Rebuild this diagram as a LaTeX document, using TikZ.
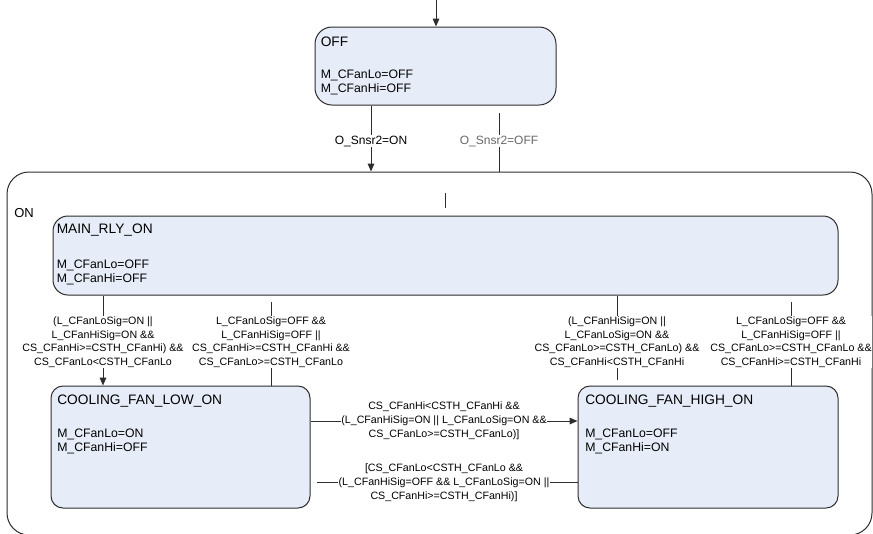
\documentclass[tikz,border=0pt]{standalone}
\usepackage{fontspec}
\setmainfont{Liberation Sans}
\usetikzlibrary{arrows.meta}
\definecolor{statefill}{RGB}{231,237,248}
\definecolor{linec}{RGB}{45,45,45}
\definecolor{graytext}{RGB}{105,105,105}
\begin{document}
\begin{tikzpicture}[x=0.75pt,y=-0.75pt,
  statebox/.style={draw=linec, line width=0.75pt, fill=statefill, inner sep=0pt},
  titletext/.style={anchor=west, inner sep=0pt, font=\fontsize{10.3}{12}\selectfont},
  bodytext/.style={anchor=west, inner sep=0pt, align=left, font=\fontsize{9.2}{10.5}\selectfont},
  tlabel/.style={fill=white, inner sep=0.6pt, align=center, font=\fontsize{8}{10.2}\selectfont},
  slabel/.style={fill=white, inner sep=0.6pt, font=\fontsize{9}{11}\selectfont},
  conn/.style={draw=linec, line width=0.75pt},
  arr/.style={conn, -{Triangle[length=6pt,width=5pt]}}]
\useasboundingbox (0,0) rectangle (873,533);

% outer ON state
\begin{scope}
\clip (0,0) rectangle (873,533);
\node[draw=linec, line width=0.75pt, fill=white, rounded corners=16.5pt, minimum width=648.75pt, minimum height=272.25pt, inner sep=0pt] (on) at (439.5,353.5) {};
\end{scope}
\node[titletext, font=\fontsize{9.75}{12}\selectfont] (ontitle) at (14,213) {ON};

% states
\node[statebox, rounded corners=12.75pt, minimum width=180.75pt, minimum height=58.5pt] (off) at (435.5,66) {};
\node[titletext] (offtitle) at (320.5,41.7) {OFF};
\node[bodytext] (offbody) at (320.5,82.5) {M\_CFanLo=OFF\\M\_CFanHi=OFF};

\node[statebox, rounded corners=11.25pt, minimum width=588.75pt, minimum height=59.25pt] (main) at (445.5,255.5) {};
\node[titletext] (maintitle) at (56.5,230) {MAIN\_RLY\_ON};
\node[bodytext] (mainbody) at (56.5,272) {M\_CFanLo=OFF\\M\_CFanHi=OFF};

\node[statebox, rounded corners=9pt, minimum width=194.25pt, minimum height=91.5pt] (low) at (180.5,447) {};
\node[titletext] (lowtitle) at (57,400.7) {COOLING\_FAN\_LOW\_ON};
\node[bodytext] (lowbody) at (57,441) {M\_CFanLo=ON\\M\_CFanHi=OFF};

\node[statebox, rounded corners=9pt, minimum width=195pt, minimum height=91.5pt] (high) at (708,447) {};
\node[titletext] (hightitle) at (585,400.7) {COOLING\_FAN\_HIGH\_ON};
\node[bodytext] (highbody) at (585,441) {M\_CFanLo=OFF\\M\_CFanHi=ON};

% guide coordinates
\coordinate (topstart) at (436,0);
\coordinate (xa) at (371,0);
\coordinate (offfree) at (499,113);
\coordinate (s1) at (445,193);
\coordinate (s2) at (445,208);
\coordinate (v1) at (103,0);
\coordinate (v2) at (271,302);
\coordinate (v3) at (617,380);
\coordinate (v4) at (791,302);
\coordinate (h1) at (0,421);
\coordinate (h2) at (317,482);

% connectors
\draw[arr] (topstart) -- (topstart |- off.north);
\draw[arr] (xa |- off.south) -- (xa |- on.north);
\draw[conn] (offfree) -- (offfree |- on.north);
\draw[conn] (s1) -- (s2);
\draw[arr] (v1 |- main.south) -- (v1 |- low.north);
\draw[conn] (v2) -- (v2 |- low.north);
\draw[conn] (v3 |- main.south) -- (v3);
\draw[conn] (v4) -- (v4 |- high.north);
\draw[arr] (h1 -| low.east) -- (h1 -| high.west);
\draw[conn] (h2) -- (h2 -| high.west);

% labels
\node[slabel] (lon) at (371,141) {O\_Snsr2=ON};
\node[slabel, text=graytext] (loff) at (499,141) {O\_Snsr2=OFF};
\node[tlabel] (l1) at (103,342) {(L\_CFanLoSig=ON ||\\L\_CFanHiSig=ON \&\&\\CS\_CFanHi>=CSTH\_CFanHi) \&\&\\CS\_CFanLo<CSTH\_CFanLo};
\node[tlabel] (l2) at (271,342) {L\_CFanLoSig=OFF \&\&\\L\_CFanHiSig=OFF ||\\CS\_CFanHi>=CSTH\_CFanHi \&\&\\CS\_CFanLo>=CSTH\_CFanLo};
\node[tlabel] (l3) at (617,342) {(L\_CFanHiSig=ON ||\\L\_CFanLoSig=ON \&\&\\CS\_CFanLo>=CSTH\_CFanLo) \&\&\\CS\_CFanHi<CSTH\_CFanHi};
\node[tlabel] (l4) at (791,342) {L\_CFanLoSig=OFF \&\&\\L\_CFanHiSig=OFF ||\\CS\_CFanLo>=CSTH\_CFanLo \&\&\\CS\_CFanHi>=CSTH\_CFanHi};
\node[tlabel, font=\fontsize{8}{10.5}\selectfont] (l5) at (444,420.5) {CS\_CFanHi<CSTH\_CFanHi \&\&\\(L\_CFanHiSig=ON || L\_CFanLoSig=ON \&\&\\CS\_CFanLo>=CSTH\_CFanLo)]};
\node[tlabel, font=\fontsize{8}{10.5}\selectfont] (l6) at (444,482.5) {[CS\_CFanLo<CSTH\_CFanLo \&\&\\(L\_CFanHiSig=OFF \&\& L\_CFanLoSig=ON ||\\CS\_CFanHi>=CSTH\_CFanHi)]};
\end{tikzpicture}
\end{document}
